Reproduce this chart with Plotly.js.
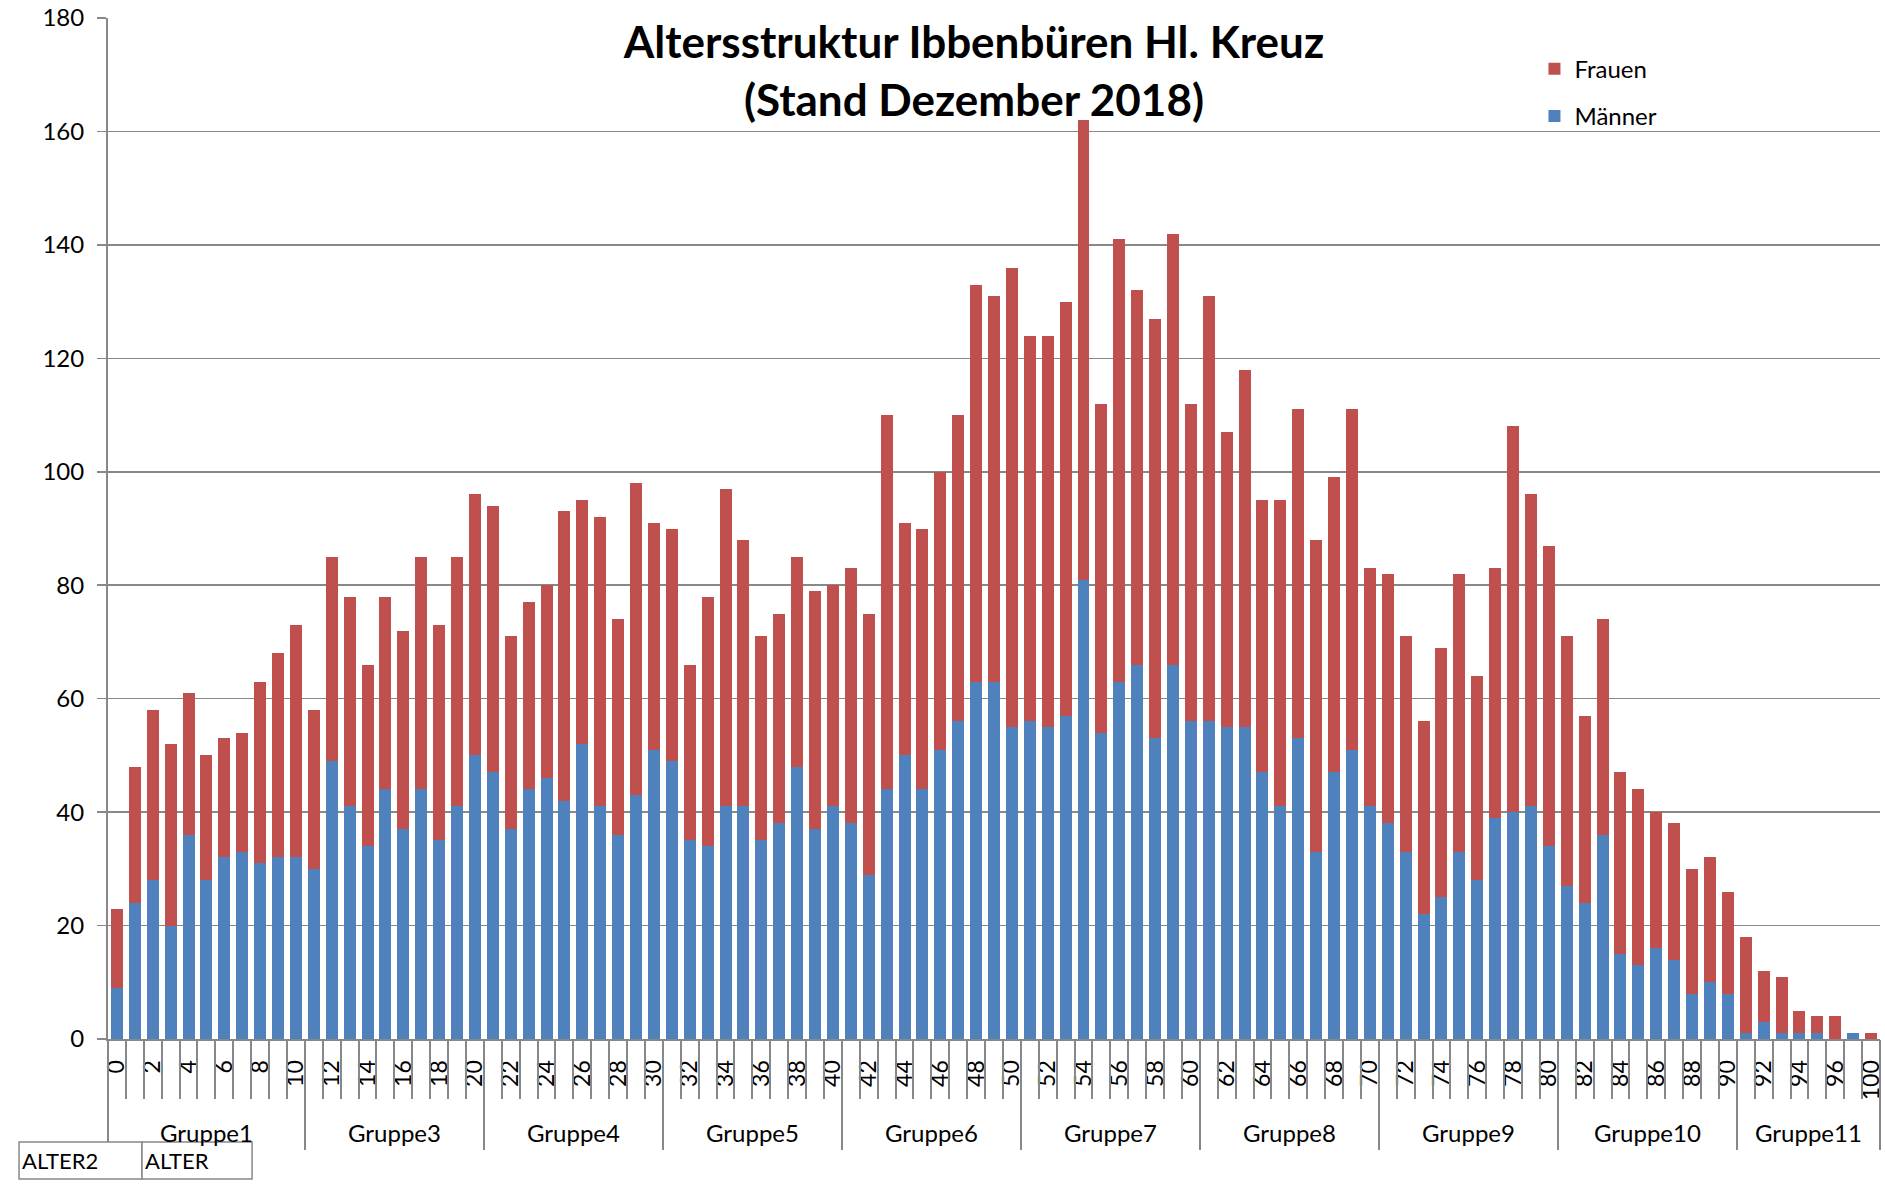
<!DOCTYPE html>
<html>
<head>
<meta charset="utf-8">
<script src="https://cdn.plot.ly/plotly-3.0.1.min.js"></script>
<style>html,body{margin:0;padding:0;background:#fff;}#chart{width:1885px;height:1190px;}</style>
</head>
<body>
<div id="chart"></div>
<script>
// ---- data ----
const ages = [0,1,2,3,4,5,6,7,8,9,10,11,12,13,14,15,16,17,18,19,20,21,22,23,24,25,26,27,28,29,30,31,32,33,34,35,36,37,38,39,40,41,42,43,44,45,46,47,48,49,50,51,52,53,54,55,56,57,58,59,60,61,62,63,64,65,66,67,68,69,70,71,72,73,74,75,76,77,78,79,80,81,82,83,84,85,86,87,88,89,90,91,92,93,94,95,96,97,100];
const maenner = [9,24,28,20,36,28,32,33,31,32, 32,30,49,41,34,44,37,44,35,41, 50,47,37,44,46,42,52,41,36,43, 51,49,35,34,41,41,35,38,48,37, 41,38,29,44,50,44,51,56,63,63, 55,56,55,57,81,54,63,66,53,66, 56,56,55,55,47,41,53,33,47,51, 41,38,33,22,25,33,28,39,40,41, 34,27,24,36,15,13,16,14,8,10, 8,1,3,1,1,1,0,1,0];
const frauen = [14,24,30,32,25,22,21,21,32,36, 41,28,36,37,32,34,35,41,38,44, 46,47,34,33,34,51,43,51,38,55, 40,41,31,44,56,47,36,37,37,42, 39,45,46,66,41,46,49,54,70,68, 81,68,69,73,81,58,78,66,74,76, 56,75,52,63,48,54,58,55,52,60, 42,44,38,34,44,49,36,44,68,55, 53,44,33,38,32,31,24,24,22,22, 18,17,9,10,4,3,4,0,1];
const groupNames = ['Gruppe1','Gruppe3','Gruppe4','Gruppe5','Gruppe6','Gruppe7','Gruppe8','Gruppe9','Gruppe10','Gruppe11'];
const groupFirstAge = [0,11,21,31,41,51,61,71,81,91];
const yTicks = [0,20,40,60,80,100,120,140,160,180];
const fieldButtons = ['ALTER2','ALTER'];

// ---- derived ----
const idx = ages.map((a,i)=>i);
const labelIdx = idx.filter(i => i % 2 === 0);
const labelText = labelIdx.map(i => String(ages[i]));
const gStart = groupFirstAge.map(a => ages.indexOf(a));
const gEnd = gStart.map((s,k) => k < gStart.length-1 ? gStart[k+1]-1 : ages.length-1);
const gCenter = gStart.map((s,k) => (s + gEnd[k]) / 2);
const gBounds = gStart.map(s => s - 0.5).concat([gEnd[gEnd.length-1] + 0.5]);
const xRange = [-0.5, ages.length - 0.5];

const FONT = 'Lato, "Liberation Sans", Arial, sans-serif';
const GRAY = '#888888';

const traces = [
  {type:'bar', name:'Männer', x: idx, y: maenner, marker:{color:'#4F81BD'}, legendgroup:'m', legendrank:2, hoverinfo:'skip'},
  {type:'bar', name:'Frauen', x: idx, y: frauen, marker:{color:'#C0504D'}, legendgroup:'f', legendrank:1, hoverinfo:'skip'},
  // empty helper trace so the category-boundary axis (x2) is drawn
  {type:'scatter', mode:'none', x: [xRange[0], xRange[1]], y: [null, null], xaxis:'x2', yaxis:'y', showlegend:false, hoverinfo:'skip'}
];

const annotations = groupNames.map((g,k) => ({
  text: g, xref:'x', x: gCenter[k], yref:'paper', y: -0.092, yanchor:'middle', xanchor:'center',
  showarrow:false, font:{family:FONT, size:24, color:'#000'}
}));

// field buttons (pivot chart)
const btnX = [-0.0502, 0.0192, 0.0813];
const shapes = [];
fieldButtons.forEach((b,k) => {
  shapes.push({type:'rect', xref:'paper', yref:'paper', x0:btnX[k], x1:btnX[k+1], y0:-0.1371, y1:-0.1009,
    line:{color:GRAY, width:1.5}, fillcolor:'#fff', layer:'above'});
  annotations.push({text:b, xref:'paper', yref:'paper', x:btnX[k]+0.0005, y:-0.119, xanchor:'left', yanchor:'middle',
    showarrow:false, font:{family:FONT, size:22, color:'#000'}});
});

const layout = {
  width:1885, height:1190,
  margin:{l:108, r:5, t:18, b:151, pad:0},
  paper_bgcolor:'#fff', plot_bgcolor:'#fff',
  barmode:'stack', bargap:0.33,
  font:{family:FONT, color:'#000'},
  title:{
    text:'Altersstruktur Ibbenbüren Hl. Kreuz<br>(Stand Dezember 2018)',
    font:{family:FONT, size:44, weight:700, color:'#000'},
    xref:'paper', x:0.4887, xanchor:'center',
    yref:'container', y:0.951, yanchor:'top'
  },
  showlegend:true,
  legend:{
    x:0.805, xanchor:'left', y:0.972, yanchor:'top',
    bgcolor:'rgba(0,0,0,0)', borderwidth:0,
    traceorder:'grouped', tracegroupgap:13,
    font:{family:FONT, size:24, color:'#000'},
    itemwidth:30
  },
  xaxis:{
    type:'linear', range:xRange, fixedrange:true,
    tickmode:'array', tickvals:labelIdx, ticktext:labelText, tickangle:-90,
    ticks:'', showline:true, linecolor:GRAY, linewidth:2,
    showgrid:false, zeroline:false,
    tickfont:{family:FONT, size:23, color:'#000'},
    ticklabelstandoff:10
  },
  xaxis2:{
    type:'linear', range:xRange, overlaying:'x', anchor:'y', side:'bottom', fixedrange:true,
    tickmode:'array', tickvals:gBounds, ticks:'outside', ticklen:110, tickwidth:2, tickcolor:GRAY,
    showticklabels:false, showgrid:false, zeroline:false, showline:false,
    minor:{tickmode:'linear', tick0:-0.5, dtick:1, ticks:'outside', ticklen:59, tickwidth:2, tickcolor:GRAY, showgrid:false}
  },
  yaxis:{
    range:[0,180], tickmode:'array', tickvals:yTicks, fixedrange:true,
    ticks:'outside', ticklen:9, tickwidth:1.5, tickcolor:GRAY,
    showgrid:true, gridcolor:GRAY, gridwidth:1.5,
    showline:true, linecolor:GRAY, linewidth:2, zeroline:false,
    tickfont:{family:FONT, size:24, color:'#000'},
    ticklabelstandoff:8
  },
  annotations: annotations,
  shapes: shapes
};

Plotly.newPlot('chart', traces, layout, {staticPlot:true, displayModeBar:false});
</script>
</body>
</html>
